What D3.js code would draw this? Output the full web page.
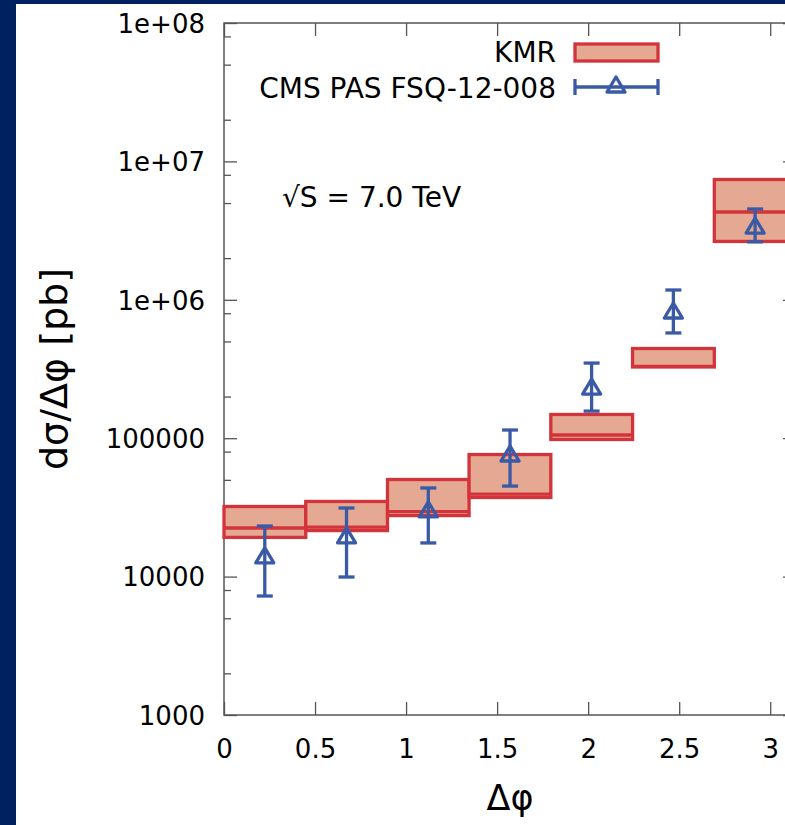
<!DOCTYPE html>
<html>
<head>
<meta charset="utf-8">
<script src="https://cdn.jsdelivr.net/npm/d3@7"></script>
<style>
  body { margin: 0; background: #00215f; }
  svg { display: block; }
  text { font-family: "DejaVu Sans", sans-serif; fill: #000; }
</style>
</head>
<body>
<script>
// bins in delta phi (7 bins over 0..pi)
const binEdges = [0, 0.449, 0.898, 1.346, 1.795, 2.244, 2.693, 3.142];
const binCenters = [0.224, 0.673, 1.122, 1.571, 2.019, 2.468, 2.917];

// KMR prediction band (pb)
const kmrHigh = [32100, 34900, 50300, 76200, 148400, 444800, 7400000];
const kmrCentral = [22450, 22800, 29500, 39500, 105500, 330000, 4310000];
const kmrLow = [19200, 21500, 27600, 37300, 97900, 327000, 2640000];

// CMS PAS FSQ-12-008 data (pb)
const cmsValue = [14100, 19700, 30300, 76900, 234000, 830000, 3410000];
const cmsHigh = [23200, 31300, 43700, 114600, 349000, 1177000, 4530000];
const cmsLow = [7240, 9930, 17500, 45100, 157000, 576000, 2620000];

const xTicks = [0, 0.5, 1, 1.5, 2, 2.5, 3];
const yTicks = [1e3, 1e4, 1e5, 1e6, 1e7, 1e8];
const yTickLabels = ["1000", "10000", "100000", "1e+06", "1e+07", "1e+08"];

const W = 785, H = 825;
const plot = {left: 224, right: 796, top: 23, bottom: 715};
const red = "#d3343b", salmon = "#e5a892", blue = "#3a5aa6", gray = "#555";

const x = d3.scaleLinear().domain([0, Math.PI]).range([plot.left, plot.right]);
const y = d3.scaleLog().domain([1e3, 1e8]).range([plot.bottom, plot.top]);

const minorTicks = [];
for (let i = 0; i < yTicks.length - 1; i++) {
  [2, 5, 8].forEach(m => minorTicks.push(yTicks[i] * m));
}

const svg = d3.select("body").append("svg")
  .attr("width", W)
  .attr("height", H);

svg.append("rect")
  .attr("x", 16).attr("y", 4)
  .attr("width", W).attr("height", H)
  .attr("fill", "#fff");

// axes, ticks pointing inward
function styleAxis(g) {
  g.select(".domain").remove();
  g.selectAll(".tick line").attr("stroke", gray).attr("stroke-width", 1.3);
  g.selectAll(".tick text").style("font-size", "26px").attr("fill", "#000");
}

svg.append("g")
  .attr("transform", "translate(" + plot.left + ",0)")
  .call(d3.axisLeft(y).tickValues(yTicks)
    .tickFormat((d, i) => yTickLabels[i])
    .tickSizeInner(-13).tickSizeOuter(0).tickPadding(19))
  .call(styleAxis)
  .selectAll(".tick text").attr("dy", "0.36em");

svg.append("g")
  .attr("transform", "translate(" + plot.left + ",0)")
  .call(d3.axisLeft(y).tickValues(minorTicks).tickFormat("")
    .tickSizeInner(-7).tickSizeOuter(0))
  .call(styleAxis);

svg.append("g")
  .attr("transform", "translate(" + plot.right + ",0)")
  .call(d3.axisRight(y).tickValues(yTicks).tickFormat("")
    .tickSizeInner(-13).tickSizeOuter(0))
  .call(styleAxis);

svg.append("g")
  .attr("transform", "translate(" + plot.right + ",0)")
  .call(d3.axisRight(y).tickValues(minorTicks).tickFormat("")
    .tickSizeInner(-7).tickSizeOuter(0))
  .call(styleAxis);

svg.append("g")
  .attr("transform", "translate(0," + plot.bottom + ")")
  .call(d3.axisBottom(x).tickValues(xTicks).tickFormat(d3.format("~g"))
    .tickSizeInner(-13).tickSizeOuter(0).tickPadding(25))
  .call(styleAxis);

svg.append("g")
  .attr("transform", "translate(0," + plot.top + ")")
  .call(d3.axisTop(x).tickValues(xTicks).tickFormat("")
    .tickSizeInner(-13).tickSizeOuter(0))
  .call(styleAxis);

// frame
svg.append("rect")
  .attr("x", plot.left).attr("y", plot.top)
  .attr("width", plot.right - plot.left)
  .attr("height", plot.bottom - plot.top)
  .attr("fill", "none")
  .attr("stroke", gray)
  .attr("stroke-width", 1.5);

// KMR boxes
const bins = d3.range(kmrCentral.length);
svg.append("g").selectAll("rect")
  .data(bins)
  .enter()
  .append("rect")
  .attr("x", i => x(binEdges[i]))
  .attr("y", i => y(kmrHigh[i]))
  .attr("width", i => x(binEdges[i + 1]) - x(binEdges[i]))
  .attr("height", i => y(kmrLow[i]) - y(kmrHigh[i]))
  .attr("fill", salmon)
  .attr("stroke", red)
  .attr("stroke-width", 3.3);

svg.append("g").selectAll("line")
  .data(bins)
  .enter()
  .append("line")
  .attr("x1", i => x(binEdges[i]))
  .attr("x2", i => x(binEdges[i + 1]))
  .attr("y1", i => y(kmrCentral[i]))
  .attr("y2", i => y(kmrCentral[i]))
  .attr("stroke", red)
  .attr("stroke-width", 3.3);

// CMS points with error bars
const tri = "M0,-8L9,7L-9,7Z";
const pts = svg.append("g")
  .attr("stroke", blue)
  .attr("stroke-width", 3.3)
  .attr("fill", "none");

pts.selectAll(".err")
  .data(bins)
  .enter()
  .append("line")
  .attr("x1", i => x(binCenters[i]))
  .attr("x2", i => x(binCenters[i]))
  .attr("y1", i => y(cmsHigh[i]))
  .attr("y2", i => y(cmsLow[i]));

[cmsHigh, cmsLow].forEach(arr => {
  pts.selectAll(null)
    .data(bins)
    .enter()
    .append("line")
    .attr("x1", i => x(binCenters[i]) - 8)
    .attr("x2", i => x(binCenters[i]) + 8)
    .attr("y1", i => y(arr[i]))
    .attr("y2", i => y(arr[i]));
});

pts.selectAll("path")
  .data(bins)
  .enter()
  .append("path")
  .attr("d", tri)
  .attr("stroke-linejoin", "round")
  .attr("transform", i => "translate(" + x(binCenters[i]) + "," + y(cmsValue[i]) + ")");

// legend
svg.append("text")
  .attr("x", 556).attr("y", 62)
  .attr("text-anchor", "end")
  .style("font-size", "28px")
  .text("KMR");

svg.append("rect")
  .attr("x", 575).attr("y", 44)
  .attr("width", 83).attr("height", 17)
  .attr("fill", salmon)
  .attr("stroke", red)
  .attr("stroke-width", 3.3);

svg.append("text")
  .attr("x", 556).attr("y", 98)
  .attr("text-anchor", "end")
  .style("font-size", "28px")
  .text("CMS PAS FSQ-12-008");

const lg = svg.append("g")
  .attr("stroke", blue)
  .attr("stroke-width", 3.3)
  .attr("fill", "none");
lg.append("line").attr("x1", 575).attr("x2", 658).attr("y1", 87).attr("y2", 87);
lg.append("line").attr("x1", 575).attr("x2", 575).attr("y1", 79).attr("y2", 95);
lg.append("line").attr("x1", 658).attr("x2", 658).attr("y1", 79).attr("y2", 95);
lg.append("path").attr("d", tri).attr("stroke-linejoin", "round")
  .attr("transform", "translate(616,85)");

// annotation
svg.append("text")
  .attr("x", 282).attr("y", 207)
  .style("font-size", "28px")
  .text("√S = 7.0 TeV");

// axis titles
svg.append("text")
  .attr("x", (plot.left + plot.right) / 2)
  .attr("y", 810)
  .attr("text-anchor", "middle")
  .style("font-size", "35px")
  .text("Δφ");

svg.append("text")
  .attr("transform", "rotate(-90)")
  .attr("x", -(plot.top + plot.bottom) / 2)
  .attr("y", 67)
  .attr("text-anchor", "middle")
  .style("font-size", "38px")
  .text("dσ/Δφ [pb]");
</script>
</body>
</html>
